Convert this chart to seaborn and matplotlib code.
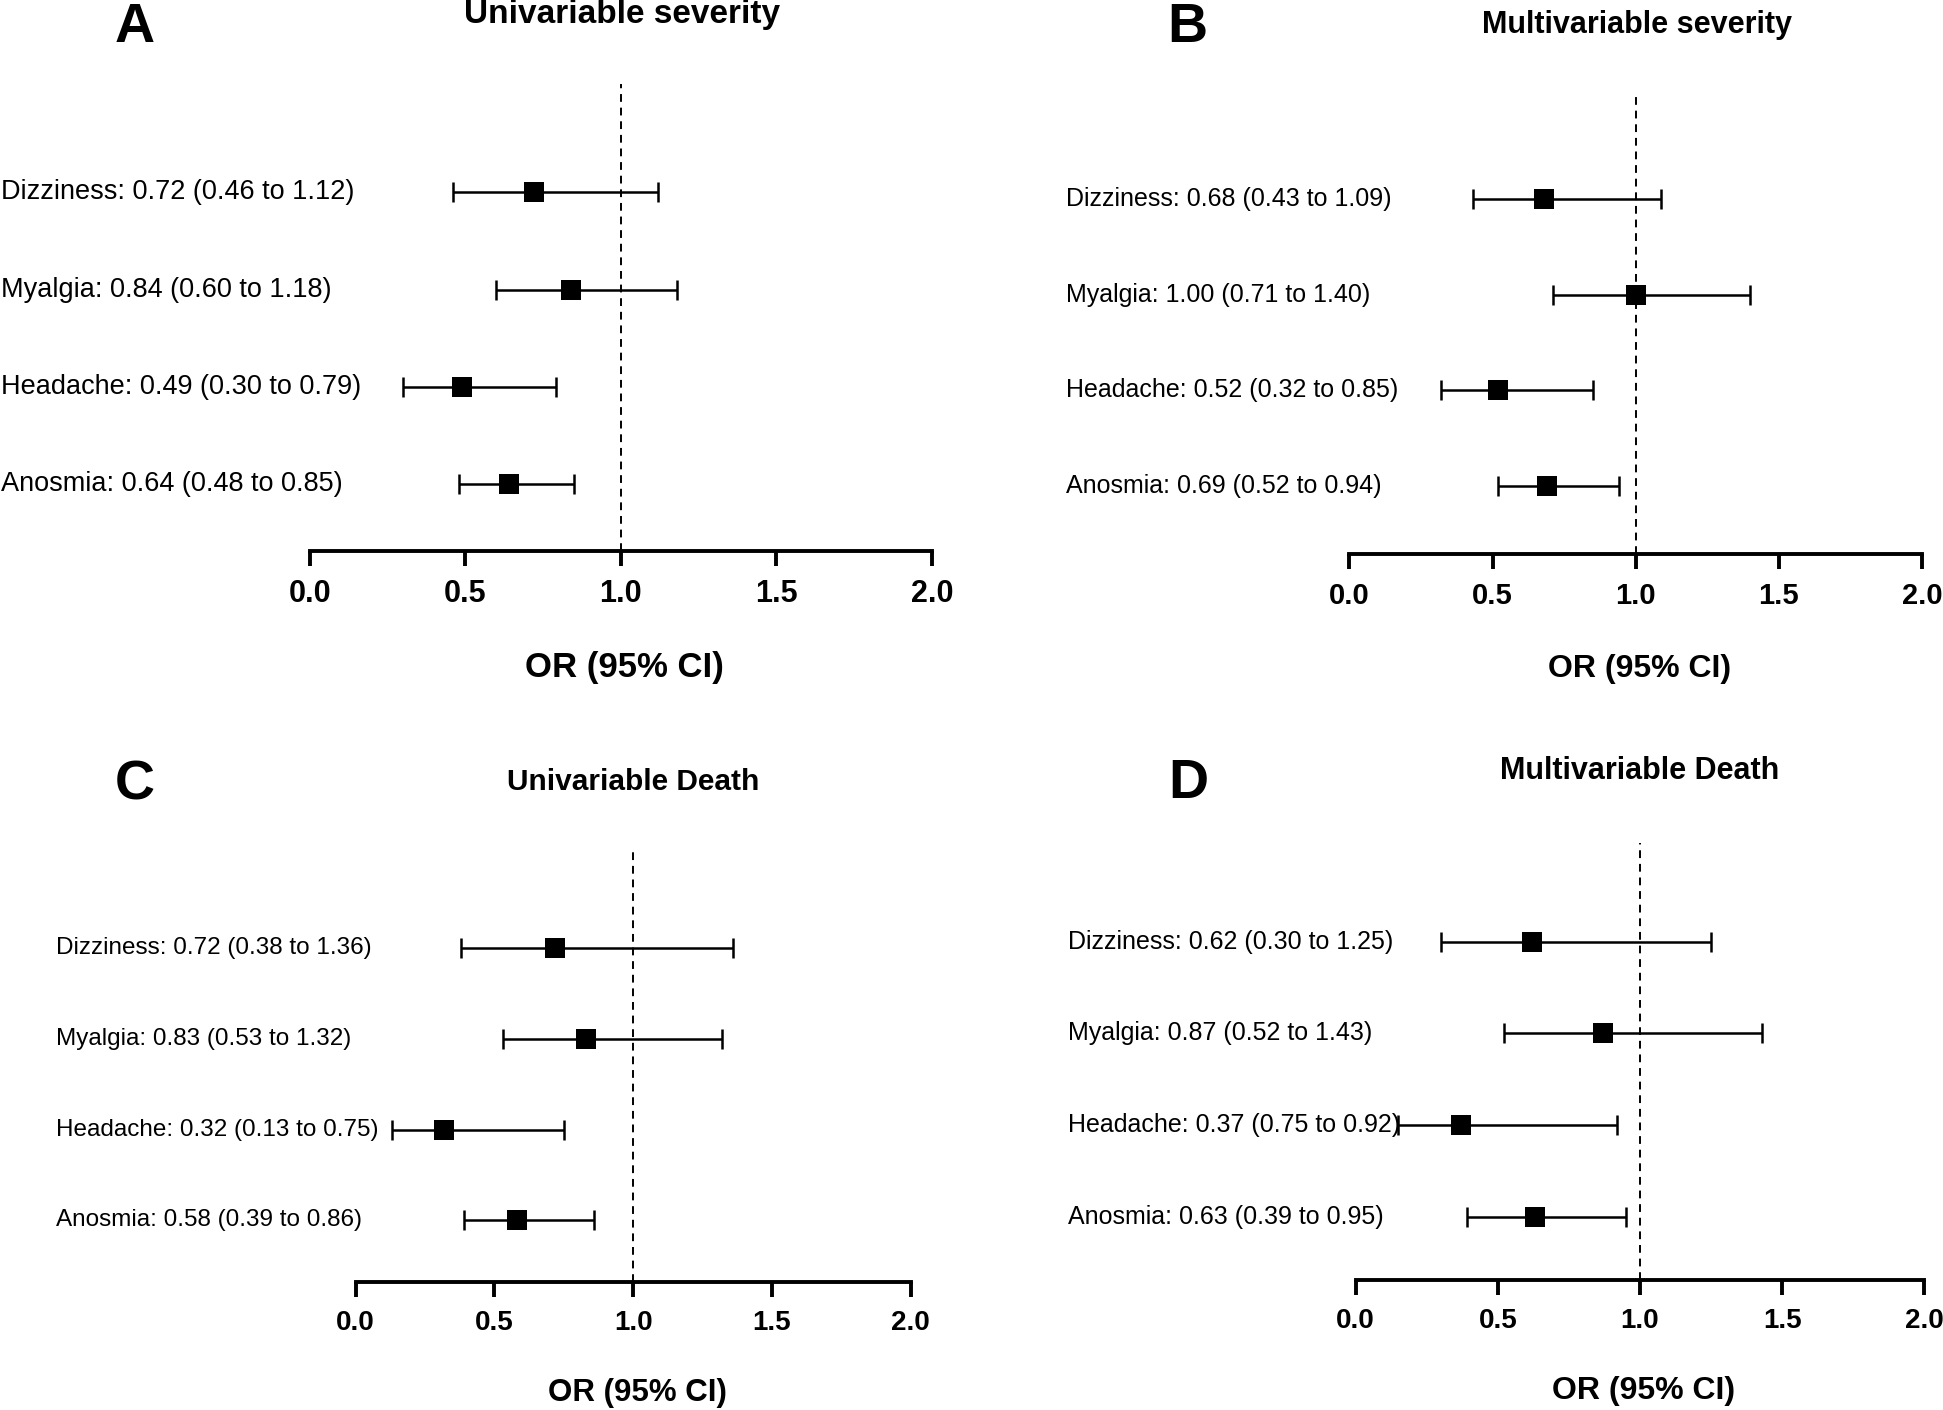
import numpy as np
import pandas as pd
import matplotlib
matplotlib.use("Agg")
import matplotlib.pyplot as plt
import seaborn as sns

sns.set_theme(style="white")
plt.rcParams['font.family'] = ['Liberation Sans', 'DejaVu Sans']
plt.rcParams['text.color'] = 'black'
plt.rcParams['xtick.color'] = 'black'
plt.rcParams['xtick.labelcolor'] = 'black'
plt.rcParams['axes.labelcolor'] = 'black'

symptoms = ["Dizziness", "Myalgia", "Headache", "Anosmia"]

# Panel A: univariable severity
a_or = [0.72, 0.84, 0.49, 0.64]
a_lo = [0.46, 0.60, 0.30, 0.48]
a_hi = [1.12, 1.18, 0.79, 0.85]
a_lab = ["0.72 (0.46 to 1.12)", "0.84 (0.60 to 1.18)", "0.49 (0.30 to 0.79)", "0.64 (0.48 to 0.85)"]

# Panel B: multivariable severity
b_or = [0.68, 1.00, 0.52, 0.69]
b_lo = [0.43, 0.71, 0.32, 0.52]
b_hi = [1.09, 1.40, 0.85, 0.94]
b_lab = ["0.68 (0.43 to 1.09)", "1.00 (0.71 to 1.40)", "0.52 (0.32 to 0.85)", "0.69 (0.52 to 0.94)"]

# Panel C: univariable death
c_or = [0.72, 0.83, 0.32, 0.58]
c_lo = [0.38, 0.53, 0.13, 0.39]
c_hi = [1.36, 1.32, 0.75, 0.86]
c_lab = ["0.72 (0.38 to 1.36)", "0.83 (0.53 to 1.32)", "0.32 (0.13 to 0.75)", "0.58 (0.39 to 0.86)"]

# Panel D: multivariable death
d_or = [0.62, 0.87, 0.37, 0.63]
d_lo = [0.30, 0.52, 0.15, 0.39]
d_hi = [1.25, 1.43, 0.92, 0.95]
d_lab = ["0.62 (0.30 to 1.25)", "0.87 (0.52 to 1.43)", "0.37 (0.75 to 0.92)", "0.63 (0.39 to 0.95)"]

titles = ["Univariable severity", "Multivariable severity", "Univariable Death", "Multivariable Death"]
letters = ["A", "B", "C", "D"]
xticks = [0.0, 0.5, 1.0, 1.5, 2.0]

W, H = 1568.0, 1138.0
fig = plt.figure(figsize=(19.43, 14.10), dpi=100)

# layout in reference pixel coords (shrunk scale)
panels = [
    dict(data=(a_or, a_lo, a_hi, a_lab), x0=250, x2=752, yax=445, ytop=68, ylim=(-0.686, 4.106),
         labx=1, lfs=19.5, tfs=24, tx=502, ty=12, lx=109, ly=34, kfs=22, xfs=25, xly=539),
    dict(data=(b_or, b_lo, b_hi, b_lab), x0=1089, x2=1551, yax=447, ytop=76, ylim=(-0.714, 4.104),
         labx=860, lfs=18, tfs=22, tx=1321, ty=20, lx=958, ly=34, kfs=21, xfs=23, xly=540),
    dict(data=(c_or, c_lo, c_hi, c_lab), x0=287, x2=735, yax=1035, ytop=685, ylim=(-0.682, 4.09),
         labx=45, lfs=17.5, tfs=21.5, tx=511, ty=631, lx=109, ly=645, kfs=20, xfs=22.5, xly=1124),
    dict(data=(d_or, d_lo, d_hi, d_lab), x0=1094, x2=1553, yax=1033, ytop=680, ylim=(-0.689, 4.08),
         labx=862, lfs=18, tfs=22, tx=1323, ty=622, lx=959, ly=644, kfs=20, xfs=23, xly=1123),
]

for i, p in enumerate(panels):
    orv, lo, hi, lab = p["data"]
    rect = [p["x0"] / W, 1 - p["yax"] / H, (p["x2"] - p["x0"]) / W, (p["yax"] - p["ytop"]) / H]
    ax = fig.add_axes(rect)
    ypos = np.arange(len(symptoms))[::-1]
    df = pd.DataFrame({"symptom": symptoms, "OR": orv, "lo": lo, "hi": hi, "y": ypos})
    ax.errorbar(df["OR"], df["y"], xerr=[df["OR"] - df["lo"], df["hi"] - df["OR"]],
                fmt="none", ecolor="black", elinewidth=1.8, capsize=7, capthick=1.8, zorder=2)
    sns.scatterplot(data=df, x="OR", y="y", marker="s", s=200, color="black",
                    edgecolor="black", linewidth=0, ax=ax, zorder=3, legend=False)
    ax.axvline(1.0, color="black", lw=1.4, ls=(0, (4, 3)), zorder=1)
    ax.set_xlim(0, 2)
    ax.set_ylim(*p["ylim"])
    ax.set_xticks(xticks)
    ax.set_xticklabels([f"{t:.1f}" for t in xticks], fontsize=p["kfs"], fontweight="bold",
                       color="black")
    ax.set_yticks([])
    ax.set_xlabel("")
    ax.set_ylabel("")
    for s in ["top", "right", "left"]:
        ax.spines[s].set_visible(False)
    ax.spines["bottom"].set_linewidth(2.8)
    ax.spines["bottom"].set_color("black")
    ax.tick_params(axis="x", direction="out", length=11, width=2.8, color="black", pad=9,
                   bottom=True)
    ax.patch.set_alpha(0)
    # row labels (left-aligned, in figure x)
    trans = matplotlib.transforms.blended_transform_factory(fig.transFigure, ax.transData)
    for name, l, y in zip(symptoms, lab, ypos):
        ax.text(p["labx"] / W, y, f"{name}: {l}", transform=trans, ha="left", va="center",
                fontsize=p["lfs"], color="black", clip_on=False)
    cx = (p["x0"] + p["x2"]) / 2 / W + 0.002
    fig.text(cx, 1 - p["xly"] / H, "OR (95% CI)", ha="center", va="center",
             fontsize=p["xfs"], fontweight="bold", color="black")
    fig.text(p["tx"] / W, 1 - p["ty"] / H, titles[i], ha="center", va="center",
             fontsize=p["tfs"], fontweight="bold", color="black")
    fig.text(p["lx"] / W, 1 - p["ly"] / H, letters[i], ha="center", va="baseline",
             fontsize=40, fontweight="bold", color="black")

fig.savefig("out.png", dpi=100, facecolor="white")
